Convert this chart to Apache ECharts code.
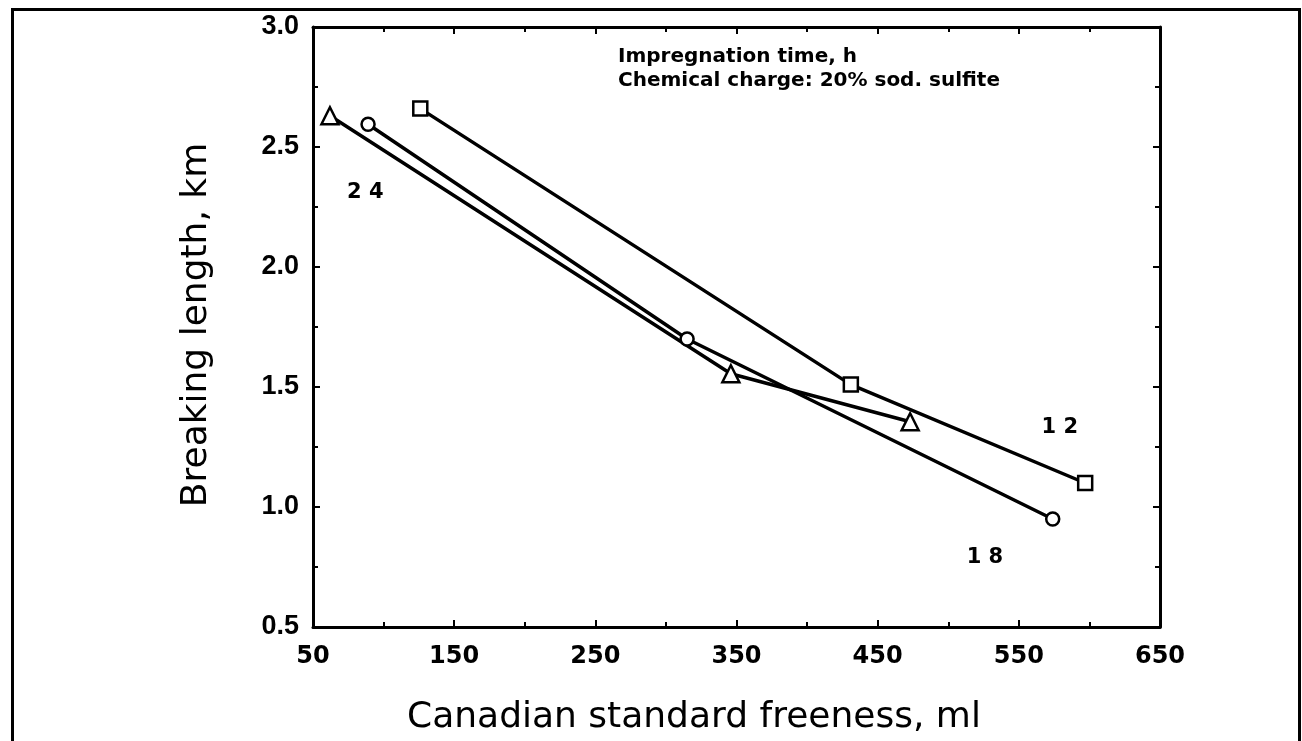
<!DOCTYPE html>
<html>
<head>
<meta charset="utf-8">
<script src="https://cdn.jsdelivr.net/npm/echarts@6/dist/echarts.min.js"></script>
<style>
  html, body { margin: 0; padding: 0; background: #fff; }
  #chart { width: 1302px; height: 741px; }
</style>
</head>
<body>
<div id="chart"></div>
<script>
// freeness (ml), breaking length (km)
const sulfite12h = [[126, 2.66], [431, 1.51], [597, 1.10]];
const sulfite18h = [[89, 2.595], [315, 1.70], [574, 0.95]];
const sulfite24h = [[62, 2.63], [346, 1.555], [473, 1.355]];
// curve labels placed in data coordinates
const curveLabels = [[87, 2.31, '2 4'], [579, 1.33, '1 2'], [526, 0.79, '1 8']];

const xTicks = { min: 50, max: 650, interval: 100 };
const yTicks = { min: 0.5, max: 3.0, interval: 0.5 };

const chart = echarts.init(document.getElementById('chart'));

const axisLine = { show: true, lineStyle: { color: '#000', width: 3 } };
const tick = { show: true, inside: true, length: 7, lineStyle: { color: '#000', width: 2 } };
const minor = { show: true, splitNumber: 2, length: 5, lineStyle: { color: '#000', width: 2 } };

function lineSeries(name, data, symbol, size) {
  return {
    name: name,
    type: 'line',
    data: data,
    symbol: symbol,
    symbolSize: size,
    showAllSymbol: true,
    lineStyle: { color: '#000', width: 3.5 },
    itemStyle: { color: '#fff', borderColor: '#000', borderWidth: 2.5 },
    z: 3
  };
}

chart.setOption({
  backgroundColor: '#fff',
  animation: false,
  grid: { left: 313, right: 142, top: 27, bottom: 114 },
  xAxis: [
    {
      type: 'value', position: 'bottom',
      min: xTicks.min, max: xTicks.max, interval: xTicks.interval,
      axisLine: axisLine, axisTick: tick, minorTick: minor,
      splitLine: { show: false },
      axisLabel: { color: '#000', fontFamily: 'DejaVu Sans', fontWeight: 'bold', fontSize: 24, margin: 18 }
    },
    {
      type: 'value', position: 'top',
      min: xTicks.min, max: xTicks.max, interval: xTicks.interval,
      axisLine: axisLine, axisTick: tick, minorTick: minor,
      splitLine: { show: false }, axisLabel: { show: false }
    }
  ],
  yAxis: [
    {
      type: 'value', position: 'left',
      min: yTicks.min, max: yTicks.max, interval: yTicks.interval,
      axisLine: axisLine, axisTick: tick, minorTick: minor,
      splitLine: { show: false },
      axisLabel: {
        color: '#000', fontFamily: 'Liberation Sans', fontWeight: 'bold', fontSize: 27, margin: 14,
        padding: [12, 0, 0, 0],
        formatter: v => v.toFixed(1)
      }
    },
    {
      type: 'value', position: 'right',
      min: yTicks.min, max: yTicks.max, interval: yTicks.interval,
      axisLine: axisLine, axisTick: tick, minorTick: minor,
      splitLine: { show: false }, axisLabel: { show: false }
    }
  ],
  series: [
    lineSeries('12 h', sulfite12h, 'rect', 14),
    lineSeries('18 h', sulfite18h, 'circle', 13),
    lineSeries('24 h', sulfite24h, 'triangle', 17),
    {
      type: 'scatter',
      data: curveLabels,
      symbol: 'circle',
      symbolSize: 0,
      itemStyle: { color: '#000' },
      silent: true,
      label: {
        show: true, position: 'inside',
        formatter: p => p.value[2],
        color: '#000', opacity: 1, textBorderWidth: 0,
        fontFamily: 'DejaVu Sans', fontWeight: 'bold', fontSize: 21
      }
    }
  ],
  graphic: [
    {
      type: 'rect', left: 10, top: 7, silent: true,
      shape: { width: 1287, height: 745 },
      style: { fill: 'none', stroke: '#000', lineWidth: 3 }
    },
    {
      type: 'text', left: 618, top: 45,
      style: {
        text: 'Impregnation time, h\nChemical charge: 20% sod. sulfite',
        fill: '#000', font: 'bold 20px "DejaVu Sans"', lineHeight: 24
      }
    },
    {
      type: 'text', x: 694, y: 718,
      style: {
        text: 'Canadian standard freeness, ml',
        fill: '#000', font: '36px "DejaVu Sans"', align: 'center', verticalAlign: 'middle'
      }
    },
    {
      type: 'text', x: 197, y: 325, rotation: Math.PI / 2,
      style: {
        text: 'Breaking length, km',
        fill: '#000', font: '36px "DejaVu Sans"', align: 'center', verticalAlign: 'middle'
      }
    }
  ]
});
</script>
</body>
</html>
